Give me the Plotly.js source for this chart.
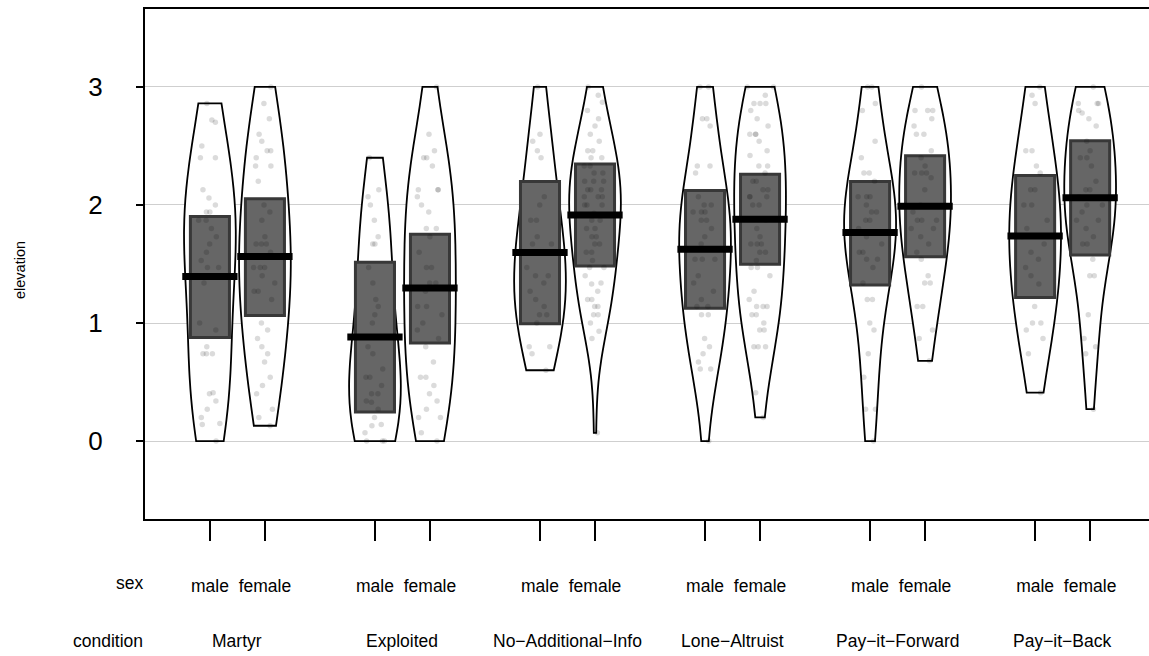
<!DOCTYPE html>
<html><head><meta charset="utf-8">
<script src="https://cdn.plot.ly/plotly-3.0.1.min.js"></script>
<style>body{margin:0;background:#fff}#chart{width:1149px;height:656px}</style>
</head><body><div id="chart"></div>
<script>
const conditions = ["Martyr","Exploited","No\u2212Additional\u2212Info","Lone\u2212Altruist","Pay\u2212it\u2212Forward","Pay\u2212it\u2212Back"];
const sexes = ["male","female"];
const yTicks = [0,1,2,3];

// group order: Martyr m/f, Exploited m/f, No-Info m/f, Lone m/f, PIF m/f, PIB m/f
const means     = [1.394,1.563,0.882,1.296,1.597,1.915,1.625,1.879,1.766,1.990,1.738,2.062];
const bandUpper = [1.902,2.052,1.514,1.753,2.198,2.347,2.122,2.260,2.198,2.418,2.249,2.545];
const bandLower = [0.878,1.063,0.247,0.830,0.993,1.483,1.126,1.498,1.323,1.562,1.216,1.576];

const martyrMale = [2.86,2.72,2.70,2.50,2.40,2.40,2.13,2.06,2.00,1.94,1.94,1.87,1.87,1.80,1.73,1.67,1.60,1.53,1.47,1.47,1.34,1.00,0.94,0.80,0.74,0.74,0.74,0.41,0.40,0.34,0.27,0.20,0.15,0.14,0.00];
const martyrFemale = [3.00,2.86,2.73,2.60,2.54,2.46,2.46,2.40,2.33,2.33,2.20,2.00,1.94,1.87,1.73,1.67,1.67,1.67,1.60,1.47,1.47,1.47,1.40,1.34,1.27,1.27,1.20,1.00,0.94,0.87,0.80,0.74,0.67,0.54,0.47,0.40,0.27,0.20,0.13];
const exploitedMale = [2.40,2.13,2.07,2.00,1.87,1.73,1.67,1.67,1.47,1.34,1.20,1.14,1.07,1.00,0.80,0.74,0.61,0.54,0.54,0.47,0.40,0.40,0.34,0.33,0.27,0.20,0.14,0.13,0.07,0.00,0.00,0.00];
const exploitedFemale = [3.00,2.60,2.46,2.40,2.40,2.33,2.13,2.13,2.13,2.07,2.00,1.94,1.80,1.80,1.73,1.60,1.47,1.47,1.34,1.34,1.27,1.14,1.14,1.07,1.00,0.94,0.87,0.80,0.67,0.54,0.54,0.47,0.40,0.34,0.27,0.20,0.20,0.07,0.00];
const noInfoMale = [3.00,2.60,2.54,2.46,2.40,2.07,2.00,1.87,1.87,1.73,1.67,1.67,1.47,1.40,1.40,1.34,1.27,1.20,1.14,1.07,1.07,1.00,0.80,0.80,0.74,0.60];
const noInfoFemale = [3.00,2.93,2.87,2.80,2.73,2.67,2.60,2.54,2.46,2.46,2.40,2.40,2.33,2.33,2.27,2.27,2.20,2.20,2.20,2.13,2.13,2.13,2.07,2.07,2.07,2.00,2.00,2.00,1.93,1.87,1.87,1.80,1.80,1.73,1.73,1.67,1.67,1.60,1.60,1.53,1.47,1.47,1.40,1.34,1.33,1.27,1.20,1.20,1.14,1.14,1.07,1.07,1.00,0.93,0.87,0.07];
const loneMale = [3.00,3.00,2.73,2.73,2.67,2.33,2.33,2.27,2.07,2.00,2.00,1.94,1.94,1.94,1.87,1.87,1.80,1.73,1.67,1.54,1.54,1.54,1.40,1.34,1.27,1.20,1.14,1.14,1.07,1.07,0.87,0.80,0.74,0.67,0.61,0.61,0.00];
const loneFemale = [3.00,3.00,2.93,2.86,2.86,2.86,2.80,2.73,2.67,2.60,2.60,2.60,2.54,2.46,2.42,2.33,2.33,2.27,2.20,2.20,2.13,2.13,2.07,2.07,2.07,2.00,2.00,1.87,1.80,1.73,1.67,1.67,1.67,1.60,1.60,1.53,1.47,1.47,1.40,1.27,1.20,1.14,1.14,1.14,1.07,1.07,1.00,0.94,0.94,0.80,0.80,0.80,0.41,0.20];
const pifMale = [3.00,3.00,2.86,2.80,2.54,2.40,2.27,2.27,2.20,2.07,2.07,2.07,2.00,1.94,1.94,1.87,1.87,1.80,1.73,1.67,1.60,1.60,1.54,1.54,1.47,1.34,1.20,1.20,1.00,0.94,0.74,0.54,0.27,0.27,0.00];
const pifFemale = [3.00,2.80,2.80,2.80,2.73,2.67,2.60,2.60,2.46,2.40,2.33,2.27,2.27,2.27,2.23,2.13,2.00,1.94,1.87,1.87,1.87,1.80,1.80,1.73,1.67,1.60,1.54,1.40,1.34,1.34,1.14,1.14,0.94,0.87,0.68];
const pibMale = [3.00,2.93,2.86,2.46,2.46,2.33,2.27,2.13,2.13,2.00,2.00,1.87,1.80,1.73,1.67,1.60,1.54,1.47,1.40,1.33,1.14,1.00,1.00,0.94,0.87,0.74,0.41];
const pibFemale = [3.00,2.86,2.86,2.86,2.80,2.78,2.73,2.67,2.54,2.46,2.40,2.40,2.33,2.20,2.13,2.13,2.07,2.00,2.00,1.94,1.87,1.87,1.80,1.73,1.67,1.67,1.54,1.40,1.40,1.07,0.87,0.80,0.74,0.27];

const groups = [martyrMale,martyrFemale,exploitedMale,exploitedFemale,noInfoMale,noInfoFemale,loneMale,loneFemale,pifMale,pifFemale,pibMale,pibFemale];

// pirateplot layout positions: pairs separated by a gap of one slot
const pos = [], sexLabels = [];
conditions.forEach((c, ci) => sexes.forEach((s, si) => { pos.push(ci * 3 + si + 1); sexLabels.push(s); }));
const condCenters = conditions.map((c, ci) => ci * 3 + 1.5);

// R's bw.nrd0 with a smoothing adjustment
const bwAdjust = 1.5;
function nrd0(v) {
  const n = v.length, m = v.reduce((a, b) => a + b, 0) / n;
  const sd = Math.sqrt(v.reduce((a, b) => a + (b - m) * (b - m), 0) / (n - 1));
  const s = [...v].sort((a, b) => a - b);
  const q = p => { const h = (n - 1) * p, lo = Math.floor(h); return s[lo] + (h - lo) * (s[Math.min(lo + 1, n - 1)] - s[lo]); };
  let lo = Math.min(sd, (q(0.75) - q(0.25)) / 1.34);
  if (!(lo > 0)) lo = sd || 1;
  return 0.9 * lo * Math.pow(n, -0.2);
}

const traces = [];
groups.forEach((d, i) => {
  traces.push({
    type: 'violin', x0: pos[i], y: d, width: 0.94, spanmode: 'hard', scalemode: 'width',
    bandwidth: nrd0(d) * bwAdjust, points: false, fillcolor: '#ffffff',
    line: { color: '#000000', width: 1.8 }, box: { visible: false }, meanline: { visible: false },
    hoverinfo: 'skip', showlegend: false
  });
});
traces.push({
  type: 'box', x: pos, q1: bandLower, q3: bandUpper, median: means,
  lowerfence: bandLower, upperfence: bandUpper, width: 0.71,
  fillcolor: '#666666', line: { color: '#383838', width: 3 }, whiskerwidth: 0,
  boxpoints: false, hoverinfo: 'skip', showlegend: false
});
groups.forEach((d, i) => {
  traces.push({
    type: 'box', x0: pos[i], y: d, width: 0.8, boxpoints: 'all', jitter: 0.65, pointpos: 0,
    fillcolor: 'rgba(0,0,0,0)', line: { color: 'rgba(0,0,0,0)', width: 0 },
    marker: { color: 'rgba(0,0,0,0.14)', size: 5.5 }, hoverinfo: 'skip', showlegend: false
  });
});
traces.push({
  type: 'scatter', mode: 'markers', x: pos, y: means,
  marker: { symbol: 'line-ew', size: 39.5, color: '#000', line: { color: '#000', width: 7 } },
  hoverinfo: 'skip', showlegend: false
});

const font = 'Liberation Sans, Arial, Helvetica, sans-serif';
const annotations = [];
condCenters.forEach((x, i) => annotations.push({
  text: conditions[i], xref: 'x', yref: 'paper', x: x, y: 0, yshift: -122,
  xanchor: 'center', yanchor: 'middle', showarrow: false, font: { size: 17.5, family: font, color: '#000' }
}));
annotations.push({ text: 'sex', xref: 'paper', yref: 'paper', x: 0, y: 0, yshift: -64, xanchor: 'right', yanchor: 'middle', showarrow: false, font: { size: 17.5, family: font, color: '#000' } });
annotations.push({ text: 'condition', xref: 'paper', yref: 'paper', x: 0, y: 0, yshift: -122, xanchor: 'right', yanchor: 'middle', showarrow: false, font: { size: 17.5, family: font, color: '#000' } });
annotations.push({ text: 'elevation', xref: 'paper', yref: 'paper', x: 0, y: 0.5, xshift: -125, yshift: -6, textangle: -90, xanchor: 'center', yanchor: 'middle', showarrow: false, font: { size: 14.5, family: font, color: '#000' } });

const layout = {
  width: 1149, height: 656, margin: { l: 145, r: 0, t: 9, b: 137 },
  paper_bgcolor: '#fff', plot_bgcolor: '#fff', showlegend: false,
  font: { family: font, color: '#000' },
  boxmode: 'overlay', violinmode: 'overlay',
  xaxis: {
    type: 'linear', range: [-0.18, 18.07], tickmode: 'array', tickvals: pos, ticktext: sexLabels,
    ticks: 'outside', ticklen: 20, tickwidth: 1.5, tickcolor: '#000',
    showline: true, mirror: true, linecolor: '#000', linewidth: 2,
    showgrid: false, zeroline: false, tickfont: { size: 17.5, family: font }, ticklabelstandoff: 30
  },
  yaxis: {
    range: [-0.66, 3.66], tickmode: 'array', tickvals: yTicks, ticktext: yTicks.map(String),
    ticks: 'outside', ticklen: 7, tickwidth: 1.5, tickcolor: '#000',
    showline: true, linecolor: '#000', linewidth: 2,
    showgrid: true, gridcolor: '#cfcfcf', gridwidth: 1, zeroline: false,
    tickfont: { size: 26, family: font }, ticklabelstandoff: 28
  },
  annotations: annotations
};
Plotly.newPlot('chart', traces, layout, { displayModeBar: false, staticPlot: true });
</script></body></html>
